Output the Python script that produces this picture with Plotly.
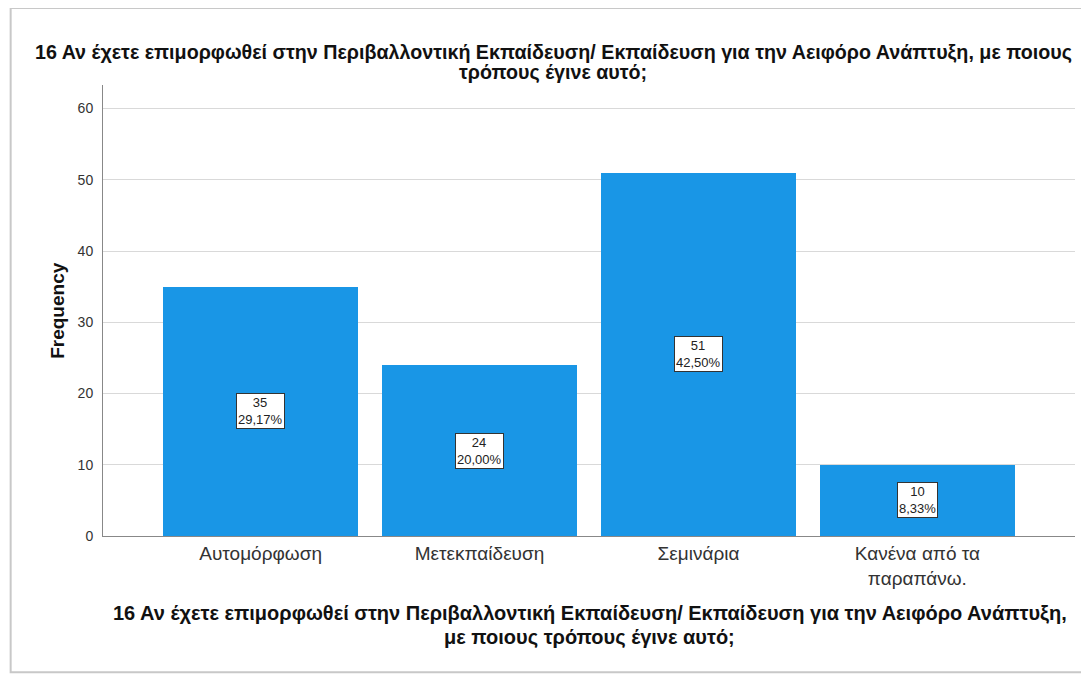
import plotly.graph_objects as go

# ── Data ───────────────────────────────────────────────────────────────────────
categories = ["Αυτομόρφωση", "Μετεκπαίδευση", "Σεμινάρια", "Κανένα από τα<br>παραπάνω."]
frequencies = [35, 24, 51, 10]
y_ticks = [0, 10, 20, 30, 40, 50, 60]

title_lines = [
    "16 Αν έχετε επιμορφωθεί στην Περιβαλλοντική Εκπαίδευση/ Εκπαίδευση "
    "για την Αειφόρο Ανάπτυξη, με ποιους",
    "τρόπους έγινε αυτό;",
]
x_title_lines = [
    "16 Αν έχετε επιμορφωθεί στην Περιβαλλοντική Εκπαίδευση/ Εκπαίδευση "
    "για την Αειφόρο Ανάπτυξη,",
    "με ποιους τρόπους έγινε αυτό;",
]

FONT = "Liberation Sans, Arial, sans-serif"
BAR_COLOR = "#1996E6"

total = sum(frequencies)
labels = [f"{v}<br>{v / total * 100:.2f}%".replace(".", ",") for v in frequencies]

fig = go.Figure()
fig.add_trace(go.Bar(
    x=list(range(len(categories))), y=frequencies,
    marker=dict(color=BAR_COLOR, line_width=0),
    width=0.89, hoverinfo="y",
))

# value boxes in the middle of each bar
for i, (v, lab) in enumerate(zip(frequencies, labels)):
    fig.add_annotation(
        x=i, y=v / 2, text=lab, showarrow=False,
        xanchor="center", yanchor="middle",
        font=dict(family=FONT, size=13, color="#222222"),
        bgcolor="white", bordercolor="#333333", borderwidth=1, borderpad=1,
    )

# titles, one annotation per line so the line spacing stays tight
for line, yp in zip(title_lines, [1.073, 1.027]):
    fig.add_annotation(
        xref="paper", yref="paper", x=0.463, y=yp, text=f"<b>{line}</b>",
        xanchor="center", yanchor="middle", showarrow=False,
        font=dict(family=FONT, size=19.7, color="#111111"),
    )
for line, yp in zip(x_title_lines, [-0.171, -0.224]):
    fig.add_annotation(
        xref="paper", yref="paper", x=0.501, y=yp, text=f"<b>{line}</b>",
        xanchor="center", yanchor="middle", showarrow=False,
        font=dict(family=FONT, size=20, color="#111111"),
    )
fig.add_annotation(
    xref="paper", yref="paper", x=-0.047, y=0.5, textangle=-90,
    xanchor="center", yanchor="middle",
    text="<b>Frequency</b>", showarrow=False,
    font=dict(family=FONT, size=19, color="#111111"),
)

# outer frame
fig.add_shape(
    type="rect", xref="paper", yref="paper",
    x0=-0.095, x1=1.008, y0=-0.302, y1=1.171,
    line=dict(color="#c8c8c8", width=2), layer="below",
)

# the page body adds an 8px offset, so the figure is 8px smaller than the window
fig.update_layout(
    width=1081, height=668,
    paper_bgcolor="white", plot_bgcolor="white",
    margin=dict(l=95, r=14, t=77, b=140),
    showlegend=False,
    font=dict(family=FONT),
    bargap=0,
    xaxis=dict(
        range=[-0.72, 3.72],
        tickmode="array", tickvals=list(range(len(categories))), ticktext=categories,
        tickfont=dict(family=FONT, size=19, color="#333333"),
        showline=True, linecolor="#888888", linewidth=1,
        showgrid=False, ticks="", zeroline=False, fixedrange=True,
    ),
    yaxis=dict(
        range=[0, 63.3],
        tickmode="array", tickvals=y_ticks,
        tickfont=dict(family=FONT, size=14, color="#333333"),
        showline=True, linecolor="#888888", linewidth=1,
        showgrid=True, gridcolor="#d9d9d9", gridwidth=1,
        ticks="", zeroline=False, fixedrange=True,
        ticklabelstandoff=6,
    ),
)

fig.write_html("out.html")
